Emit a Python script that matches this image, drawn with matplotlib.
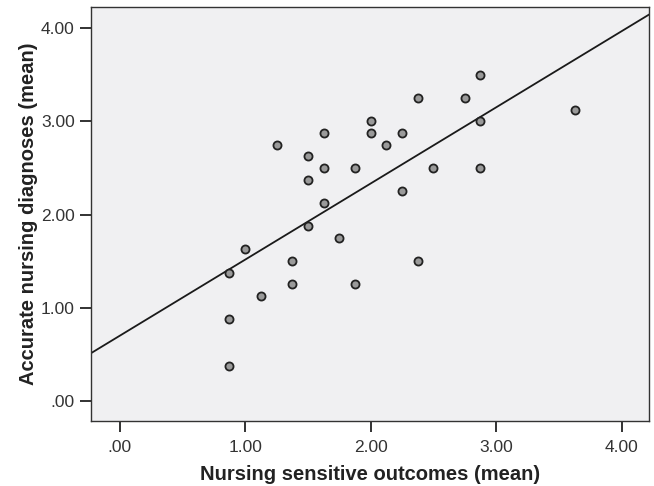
import numpy as np
import matplotlib
matplotlib.use("Agg")
import matplotlib.pyplot as plt

# mean scores per ward
nursing_outcomes = [0.875, 0.875, 0.875, 1.0, 1.125, 1.25, 1.375, 1.375,
                    1.5, 1.5, 1.5, 1.625, 1.625, 1.625, 1.75, 1.875, 1.875,
                    2.0, 2.0, 2.125, 2.25, 2.25, 2.375, 2.375, 2.5, 2.75,
                    2.875, 2.875, 2.875, 3.625]
accurate_diagnoses = [1.375, 0.875, 0.375, 1.625, 1.125, 2.75, 1.5, 1.25,
                      2.625, 2.375, 1.875, 2.875, 2.5, 2.125, 1.75, 2.5, 1.25,
                      3.0, 2.875, 2.75, 2.875, 2.25, 3.25, 1.5, 2.5, 3.25,
                      3.5, 3.0, 2.5, 3.125]
tick_values = [0, 1, 2, 3, 4]
tick_labels = [".00", "1.00", "2.00", "3.00", "4.00"]

plt.rcParams['font.family'] = ['Liberation Sans', 'DejaVu Sans']

fig = plt.figure(figsize=(6.54, 4.86), dpi=100)
ax = fig.add_axes([0.1396, 0.1337, 0.8532, 0.8525])
ax.set_facecolor("#f0f0f2")

x = np.array(nursing_outcomes)
y = np.array(accurate_diagnoses)

ax.set_xlim(-0.226, 4.22)
ax.set_ylim(-0.214, 4.228)

# fit line, drawn across the whole plot area like SPSS does
slope, intercept = np.polyfit(x, y, 1)
xl = np.array(ax.get_xlim())
ax.plot(xl, intercept + slope * xl, color="#1a1a1a", linewidth=1.3, zorder=2)

ax.scatter(x, y, s=34, facecolor="#9a9a9a", edgecolor="#222222",
           linewidth=1.3, zorder=3)

ax.set_xticks(tick_values)
ax.set_xticklabels(tick_labels)
ax.set_yticks(tick_values)
ax.set_yticklabels(tick_labels)
ax.tick_params(direction="out", length=8, width=1.3, colors="#222222",
               labelsize=12.5, labelcolor="#333333")
ax.tick_params(axis="x", pad=6)
ax.tick_params(axis="y", pad=4)

for sp in ax.spines.values():
    sp.set_color("#333333")
    sp.set_linewidth(1.0)

ax.set_xlabel("Nursing sensitive outcomes (mean)", fontsize=14.5,
              fontweight="bold", color="#222222", labelpad=7)
ax.set_ylabel("Accurate nursing diagnoses (mean)", fontsize=14.5,
              fontweight="bold", color="#222222", labelpad=2)

fig.savefig("out.png", dpi=100)
